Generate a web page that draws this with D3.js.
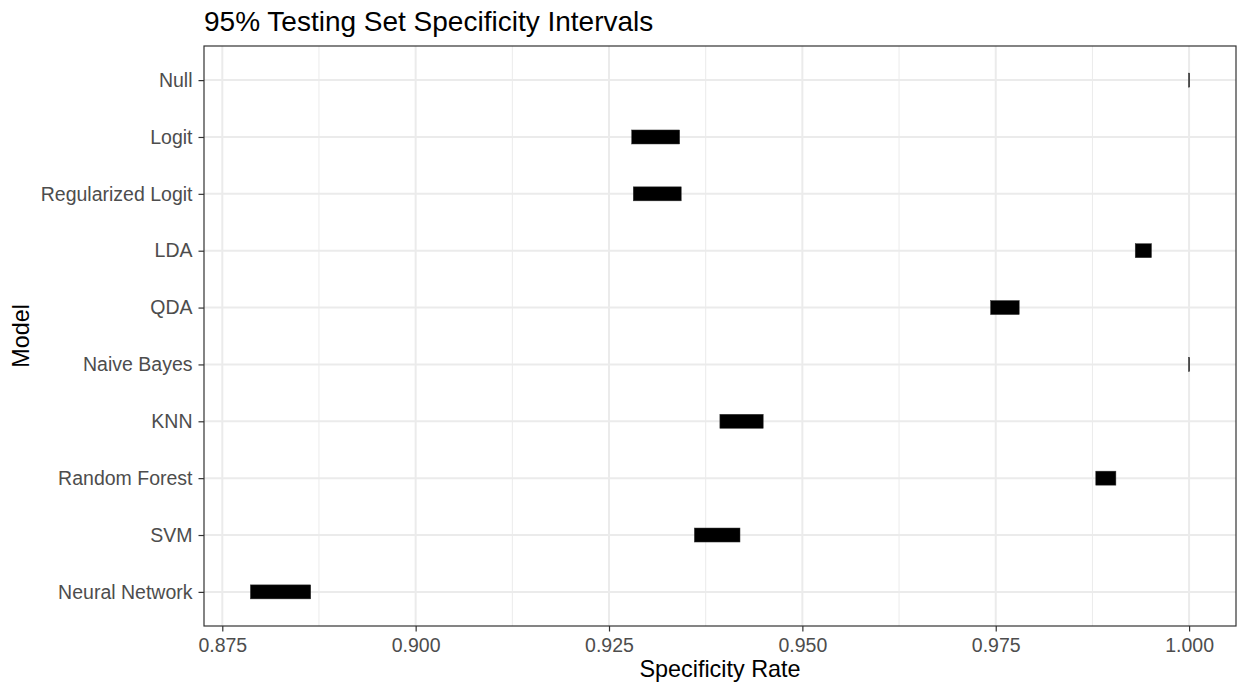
<!DOCTYPE html>
<html>
<head>
<meta charset="utf-8">
<script src="https://cdn.jsdelivr.net/npm/d3@7"></script>
<style>
  body { margin: 0; background: #fff; }
  svg text { font-family: "Liberation Sans", Arial, sans-serif; }
</style>
</head>
<body>
<svg id="chart" width="1238" height="689"></svg>
<script>
// model names, top to bottom
const models = ["Null", "Logit", "Regularized Logit", "LDA", "QDA", "Naive Bayes",
  "KNN", "Random Forest", "SVM", "Neural Network"];
// 95% interval bounds for specificity
const lower = [1.0000, 0.9280, 0.9282, 0.9931, 0.9744, 1.0000, 0.9394, 0.9880, 0.9361, 0.8787];
const upper = [1.0000, 0.9342, 0.9344, 0.9952, 0.9781, 1.0000, 0.9450, 0.9906, 0.9420, 0.8865];
const xTicks = [0.875, 0.900, 0.925, 0.950, 0.975, 1.000];
const xMinor = [0.8875, 0.9125, 0.9375, 0.9625, 0.9875];

const svg = d3.select("#chart");
const margin = { top: 46, right: 2, bottom: 63, left: 204 };
const width = 1238 - margin.left - margin.right;
const height = 689 - margin.top - margin.bottom;

const g = svg.append("g").attr("transform", `translate(${margin.left},${margin.top})`);

// ggplot-style 5% expansion around data range
const dMin = d3.min(lower), dMax = d3.max(upper);
const pad = (dMax - dMin) * 0.05;
const x = d3.scaleLinear().domain([dMin - pad, dMax + pad]).range([0, width]);
const y = d3.scalePoint().domain(models).range([0, height]).padding(0.6);

// grid
g.selectAll(".minor").data(xMinor).join("line")
  .attr("x1", d => x(d)).attr("x2", d => x(d))
  .attr("y1", 0).attr("y2", height)
  .attr("stroke", "#EBEBEB").attr("stroke-width", 1);
g.selectAll(".major").data(xTicks).join("line")
  .attr("x1", d => x(d)).attr("x2", d => x(d))
  .attr("y1", 0).attr("y2", height)
  .attr("stroke", "#EBEBEB").attr("stroke-width", 2);
g.selectAll(".hgrid").data(models).join("line")
  .attr("x1", 0).attr("x2", width)
  .attr("y1", d => y(d)).attr("y2", d => y(d))
  .attr("stroke", "#EBEBEB").attr("stroke-width", 2);

// interval bars
const barH = 14;
g.selectAll(".bar").data(models).join("rect")
  .attr("x", (d, i) => x(lower[i]) - 0.5)
  .attr("y", d => y(d) - barH / 2)
  .attr("width", (d, i) => Math.max(1, x(upper[i]) - x(lower[i])))
  .attr("height", barH)
  .attr("fill", "#000")
  .attr("stroke", "#333")
  .attr("stroke-width", 0.5);

// panel border
g.append("rect")
  .attr("x", 0).attr("y", 0).attr("width", width).attr("height", height)
  .attr("fill", "none").attr("stroke", "#333").attr("stroke-width", 1.2);

// axes
const xAxis = g.append("g")
  .attr("transform", `translate(0,${height})`)
  .call(d3.axisBottom(x).tickValues(xTicks).tickFormat(d3.format(".3f")).tickSize(5.5).tickPadding(7));
const yAxis = g.append("g")
  .call(d3.axisLeft(y).tickSize(5.5).tickPadding(6));
[xAxis, yAxis].forEach(a => {
  a.select(".domain").remove();
  a.selectAll(".tick line").attr("stroke", "#333").attr("stroke-width", 1.2);
  a.selectAll(".tick text").attr("fill", "#4D4D4D").style("font-size", "19.5px");
});

// titles
g.append("text")
  .attr("x", width / 2).attr("y", height + 51)
  .attr("text-anchor", "middle")
  .style("font-size", "23.4px").attr("fill", "#000")
  .text("Specificity Rate");

g.append("text")
  .attr("transform", "rotate(-90)")
  .attr("x", -height / 2).attr("y", -175)
  .attr("text-anchor", "middle")
  .style("font-size", "23.4px").attr("fill", "#000")
  .text("Model");

svg.append("text")
  .attr("x", margin.left).attr("y", 31)
  .style("font-size", "28px").attr("fill", "#000")
  .text("95% Testing Set Specificity Intervals");
</script>
</body>
</html>
